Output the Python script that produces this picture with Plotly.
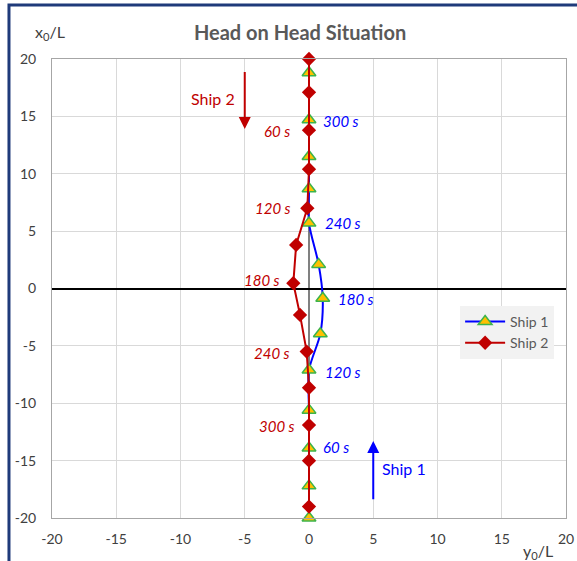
import plotly.graph_objects as go

# Ship 1 trajectory (y0/L, x0/L)
ship1_y = [0, 0, 0, 0, 0, 0.88, 1.07, 0.75, 0, 0, 0, 0, 0]
ship1_x = [-20, -17.2, -13.9, -10.6, -7.1, -3.95, -0.85, 2.1, 5.7, 8.7, 11.5, 14.7, 18.8]

# Ship 2 trajectory
ship2_y = [0, 0, 0, 0, -0.13, -1.0, -1.22, -0.7, -0.18, 0, 0, 0, 0]
ship2_x = [20, 17.1, 13.8, 10.4, 7.0, 3.8, 0.46, -2.3, -5.5, -8.65, -11.9, -15.0, -19.0]

# Time labels
t1_text = ["60 s", "120 s", "180 s", "240 s", "300 s"]
t1_y = [2.1, 2.65, 3.65, 2.65, 2.5]
t1_x = [-13.8, -7.3, -0.95, 5.75, 14.6]
t2_text = ["60 s", "120 s", "180 s", "240 s", "300 s"]
t2_y = [-2.5, -2.8, -3.65, -2.9, -2.5]
t2_x = [13.7, 7.0, 0.7, -5.6, -12.0]

ticks = [-20, -15, -10, -5, 0, 5, 10, 15, 20]
tick_labels = ["-20", "-15", "-10", "-5", "0", "5", "10", "15", "20"]

BLUE = "#0000ff"
RED = "#c00000"
FONT = "Lato, 'Open Sans', sans-serif"

fig = go.Figure()
fig.add_trace(go.Scatter(
    x=ship1_y, y=ship1_x, name="Ship 1", mode="lines+markers", cliponaxis=False,
    line=dict(color=BLUE, width=2, shape="spline", smoothing=0.8),
    marker=dict(symbol="triangle-up", size=12, color="#ffc000",
                line=dict(color="#3cb44b", width=1.5))))
fig.add_trace(go.Scatter(
    x=ship2_y, y=ship2_x, name="Ship 2", mode="lines+markers", cliponaxis=False,
    line=dict(color=RED, width=2),
    marker=dict(symbol="diamond", size=11, color=RED)))

ann = []
for t, xx, yy in zip(t1_text, t1_y, t1_x):
    ann.append(dict(x=xx, y=yy, text=f"<i>{t}</i>", showarrow=False,
                    font=dict(color=BLUE, size=15, family=FONT), xanchor="center"))
for t, xx, yy in zip(t2_text, t2_y, t2_x):
    ann.append(dict(x=xx, y=yy, text=f"<i>{t}</i>", showarrow=False,
                    font=dict(color=RED, size=15, family=FONT), xanchor="center"))
ann.append(dict(x=-7.5, y=16.6, text="Ship 2", showarrow=False,
                font=dict(color=RED, size=16, family=FONT)))
ann.append(dict(x=7.4, y=-15.7, text="Ship 1", showarrow=False,
                font=dict(color=BLUE, size=16, family=FONT)))
# arrows
ann.append(dict(x=-5, y=13.9, ax=-5, ay=19.0, xref="x", yref="y", axref="x", ayref="y",
                text="", showarrow=True, arrowhead=2, arrowsize=1.2, arrowwidth=2, arrowcolor=RED))
ann.append(dict(x=5, y=-13.3, ax=5, ay=-18.5, xref="x", yref="y", axref="x", ayref="y",
                text="", showarrow=True, arrowhead=2, arrowsize=1.2, arrowwidth=2, arrowcolor=BLUE))
# axis titles
ann.append(dict(x=-0.003, y=1.03, xref="paper", yref="paper", text="x<sub>0</sub>/L",
                showarrow=False, xanchor="center", yanchor="bottom",
                font=dict(size=16, color="#404040", family=FONT)))
ann.append(dict(x=0.945, y=-0.045, xref="paper", yref="paper", text="y<sub>0</sub>/L",
                showarrow=False, xanchor="center", yanchor="top",
                font=dict(size=16, color="#404040", family=FONT)))

fig.update_layout(
    width=577, height=561,
    margin=dict(l=52, r=11, t=59, b=43, autoexpand=False),
    paper_bgcolor="white", plot_bgcolor="white",
    title=dict(text="<b>Head on Head Situation</b>", x=0.52, xanchor="center",
               y=0.942, yanchor="middle",
               font=dict(size=20, color="#595959", family=FONT)),
    font=dict(family=FONT, color="#404040", size=14),
    showlegend=True,
    legend=dict(x=0.794, y=0.462, xanchor="left", yanchor="top",
                bgcolor="#f2f2f2", font=dict(size=14, color="#595959"),
                itemwidth=40, tracegroupgap=6),
    annotations=ann,
    shapes=[dict(type="rect", xref="paper", yref="paper",
                 x0=-0.0837, x1=1.2, y0=-0.3, y1=1.1176,
                 line=dict(color="#1f3a7a", width=3), layer="above")],
)
fig.update_xaxes(range=[-20, 20], tickvals=ticks, ticktext=tick_labels, automargin=False,
                 showgrid=True, gridcolor="#d9d9d9", ticklabelstandoff=8,
                 zeroline=True, zerolinecolor="#808080", zerolinewidth=1.5,
                 showline=True, linecolor="#a6a6a6", mirror=True, ticks="",
                 tickfont=dict(size=14, color="#404040"))
fig.update_yaxes(range=[-20, 20], tickvals=ticks, ticktext=tick_labels, automargin=False,
                 showgrid=True, gridcolor="#d9d9d9", ticklabelstandoff=12,
                 zeroline=True, zerolinecolor="#000000", zerolinewidth=1.5,
                 showline=True, linecolor="#a6a6a6", mirror=True, ticks="",
                 tickfont=dict(size=14, color="#404040"))

fig.write_html("out.html")
